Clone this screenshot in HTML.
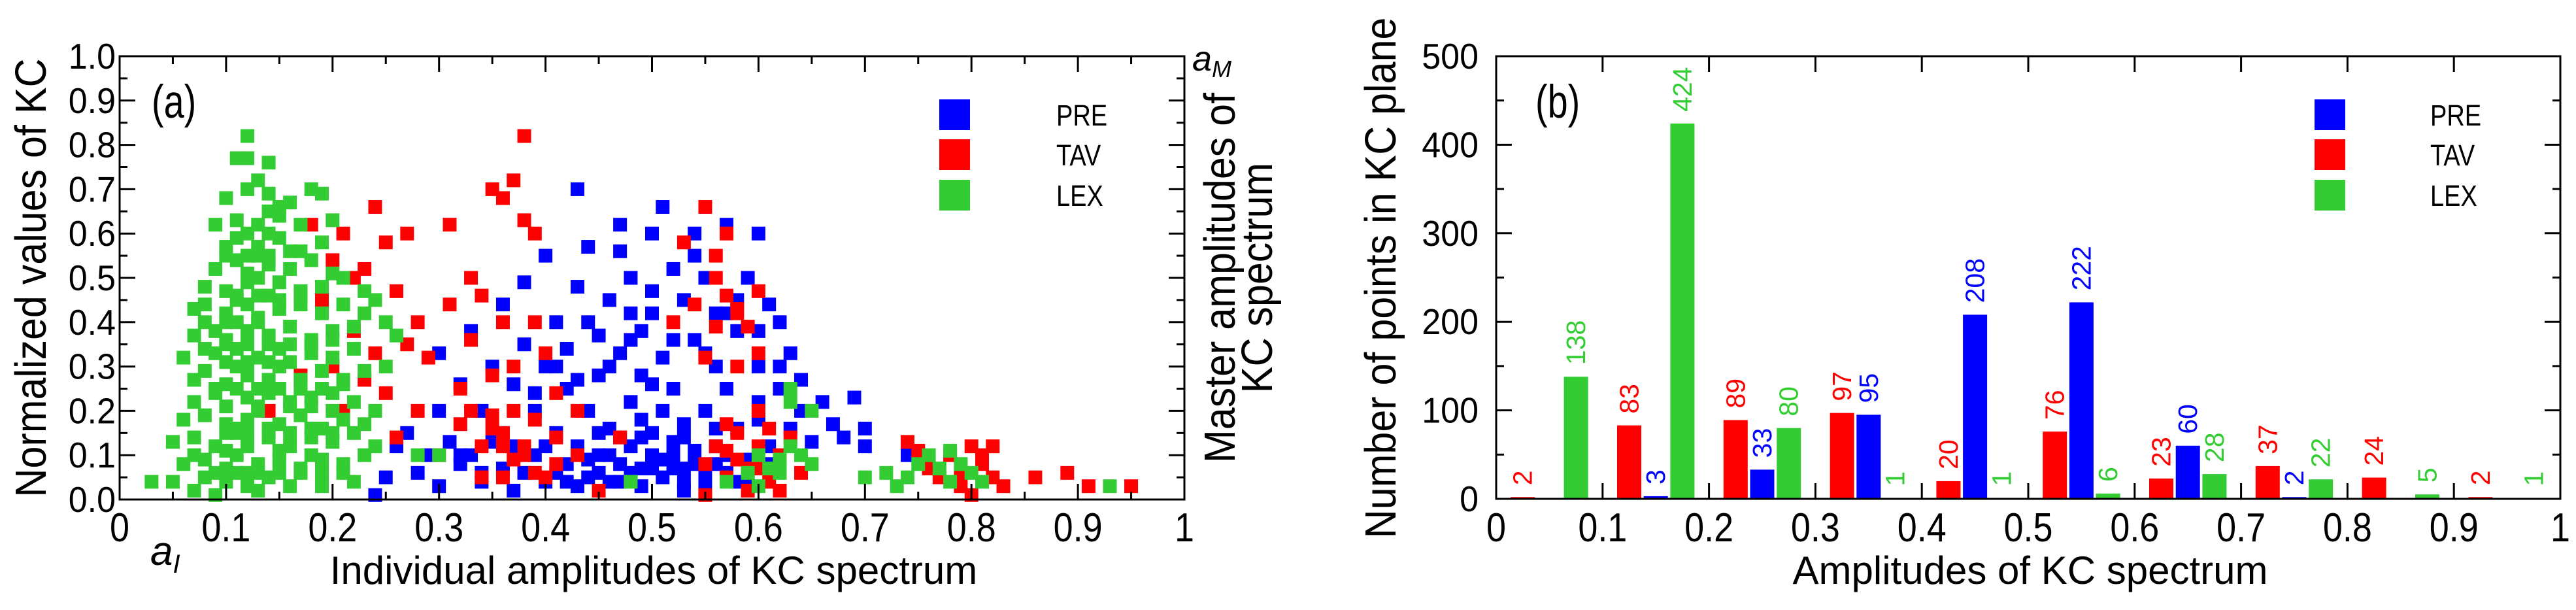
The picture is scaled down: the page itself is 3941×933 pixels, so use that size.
<!DOCTYPE html>
<html><head><meta charset="utf-8"><style>
html,body{margin:0;padding:0;background:#fff;}
svg{display:block;font-family:"Liberation Sans",Arial,sans-serif;}
</style></head><body>
<svg id="fig" width="3941" height="933" viewBox="0 0 3941 933" xmlns="http://www.w3.org/2000/svg">
<g id="pa"></g>
<g id="pb"></g>
<g>
<text transform="translate(232,180) scale(0.9,1.15)" font-size="62">(a)</text>
<text x="1000" y="893" font-size="60" text-anchor="middle">Individual amplitudes of KC spectrum</text>
<text transform="translate(70,425) rotate(-90) scale(1,1.1)" font-size="61" text-anchor="middle">Normalized values of KC</text>
<text transform="translate(1889,425) rotate(-90) scale(1,1.1)" font-size="61" text-anchor="middle">Master amplitudes of</text>
<text transform="translate(1946,425) rotate(-90) scale(1,1.1)" font-size="61" text-anchor="middle">KC spectrum</text>
<text x="1824" y="108" font-size="54" font-style="italic">a<tspan font-size="36" dy="10">M</tspan></text>
<text x="230" y="864" font-size="62" font-style="italic">a<tspan font-size="40" dy="12">I</tspan></text>
<g font-size="38">
<rect x="1437" y="152" width="47" height="47" fill="#0000ff"/>
<text transform="translate(1616,192) scale(1,1.2)">PRE</text>
<rect x="1437" y="213" width="47" height="47" fill="#ff0000"/>
<text transform="translate(1616,253) scale(1,1.2)">TAV</text>
<rect x="1437" y="275" width="47" height="47" fill="#33cc33"/>
<text transform="translate(1616,315) scale(1,1.2)">LEX</text>
</g>
</g>
<g>
<text transform="translate(2349,180) scale(0.9,1.15)" font-size="62">(b)</text>
<text x="3106" y="893" font-size="60" text-anchor="middle">Amplitudes of KC spectrum</text>
<text transform="translate(2135,425) rotate(-90) scale(1,1.1)" font-size="61" text-anchor="middle">Number of points in KC plane</text>
<g font-size="38">
<rect x="3541" y="152" width="47" height="47" fill="#0000ff"/>
<text transform="translate(3718,192) scale(1,1.2)">PRE</text>
<rect x="3541" y="213" width="47" height="47" fill="#ff0000"/>
<text transform="translate(3718,253) scale(1,1.2)">TAV</text>
<rect x="3541" y="275" width="47" height="47" fill="#33cc33"/>
<text transform="translate(3718,315) scale(1,1.2)">LEX</text>
</g>
</g>
</svg>
<script>
// ---------- Panel (a) data ----------
const preX=[0.24,0.25,0.26,0.27,0.28,0.29,0.3,0.3,0.3,0.31,0.32,0.32,0.33,0.33,0.34,0.34,0.35,0.35,0.36,0.36,0.37,0.37,0.38,0.38,0.39,0.39,0.4,0.4,0.4,0.41,0.41,0.42,0.42,0.42,0.43,0.43,0.43,0.44,0.44,0.44,0.45,0.45,0.45,0.46,0.46,0.46,0.47,0.47,0.47,0.48,0.48,0.48,0.49,0.49,0.49,0.5,0.5,0.5,0.5,0.51,0.51,0.51,0.51,0.52,0.52,0.52,0.53,0.53,0.53,0.54,0.54,0.54,0.55,0.55,0.55,0.56,0.56,0.56,0.57,0.57,0.57,0.58,0.58,0.59,0.59,0.6,0.6,0.6,0.61,0.61,0.62,0.62,0.63,0.63,0.64,0.65,0.66,0.67,0.68,0.69,0.7,0.7,0.74,0.46,0.48,0.52,0.54,0.5,0.44,0.56,0.58,0.42,0.4,0.38,0.36,0.47,0.53,
0.41,0.43,0.45,0.47,0.49,0.51,0.53,0.55,0.57,0.59,0.61,0.45,0.49,0.52,0.56,0.6,0.48,0.5,0.54,0.58,0.39,0.41,0.44,0.46,0.48,0.5,0.52,0.55,0.57,0.6,0.62,0.64,0.32,0.34,0.37,0.49,0.53,0.47,0.43];
const preY=[0.01,0.05,0.12,0.15,0.06,0.1,0.03,0.2,0.33,0.13,0.26,0.08,0.38,0.1,0.2,0.04,0.3,0.13,0.44,0.07,0.26,0.02,0.35,0.49,0.1,0.2,0.04,0.3,0.55,0.15,0.4,0.08,0.25,0.34,0.7,0.48,0.12,0.05,0.2,0.57,0.37,0.1,0.28,0.04,0.45,0.16,0.62,0.08,0.33,0.22,0.5,0.12,0.03,0.38,0.28,0.6,0.15,0.07,0.42,0.66,0.2,0.05,0.32,0.52,0.1,0.25,0.04,0.45,0.14,0.36,0.08,0.6,0.2,0.5,0.02,0.3,0.12,0.42,0.06,0.62,0.25,0.16,0.38,0.5,0.09,0.3,0.6,0.18,0.44,0.12,0.25,0.4,0.33,0.16,0.27,0.13,0.22,0.17,0.14,0.23,0.16,0.12,0.1,0.1,0.06,0.07,0.11,0.1,0.09,0.08,0.04,0.04,0.12,0.06,0.15,0.14,0.17,
0.06,0.03,0.06,0.04,0.07,0.09,0.07,0.05,0.1,0.05,0.08,0.15,0.18,0.13,0.16,0.22,0.42,0.47,0.55,0.45,0.24,0.3,0.4,0.3,0.36,0.26,0.36,0.33,0.42,0.38,0.3,0.2,0.1,0.06,0.12,0.14,0.02,0.56,0.27];
const tavX=[0.12,0.14,0.17,0.18,0.19,0.2,0.2,0.21,0.21,0.22,0.22,0.23,0.23,0.24,0.24,0.25,0.25,0.26,0.26,0.27,0.27,0.28,0.28,0.29,0.3,0.31,0.31,0.32,0.32,0.33,0.33,0.34,0.34,0.35,0.35,0.35,0.36,0.36,0.36,0.37,0.37,0.37,0.38,0.38,0.38,0.39,0.39,0.39,0.4,0.4,0.41,0.41,0.43,0.43,0.45,0.47,0.52,0.53,0.54,0.55,0.55,0.56,0.56,0.57,0.57,0.58,0.58,0.59,0.6,0.6,0.55,0.55,0.56,0.57,0.58,0.58,0.59,0.6,0.6,0.61,0.61,0.62,0.62,0.63,0.64,0.74,0.75,0.76,0.77,0.78,0.79,0.8,0.8,0.81,0.82,0.82,0.83,0.86,0.89,0.91,0.95,
0.35,0.36,0.38,0.37,0.34,0.39,0.41,0.33,0.36,0.57,0.59,0.56,0.58,0.6,0.57,0.76,0.79,0.81];
const tavY=[0.14,0.2,0.28,0.62,0.45,0.54,0.3,0.6,0.2,0.5,0.38,0.52,0.27,0.66,0.33,0.58,0.24,0.47,0.14,0.35,0.6,0.4,0.2,0.32,0.1,0.44,0.62,0.25,0.17,0.5,0.36,0.05,0.46,0.7,0.28,0.16,0.68,0.4,0.12,0.2,0.72,0.3,0.82,0.63,0.1,0.6,0.4,0.18,0.05,0.33,0.14,0.24,0.2,0.1,0.02,0.14,0.4,0.58,0.44,0.66,0.32,0.5,0.39,0.46,0.6,0.42,0.3,0.39,0.47,0.33,0.01,0.08,0.12,0.05,0.15,0.09,0.02,0.12,0.07,0.16,0.04,0.1,0.02,0.14,0.06,0.13,0.11,0.07,0.05,0.1,0.03,0.12,0.01,0.08,0.12,0.05,0.03,0.05,0.06,0.03,0.03,
0.19,0.15,0.12,0.09,0.12,0.06,0.08,0.2,0.05,0.11,0.07,0.55,0.43,0.2,0.17,0.09,0.06,0.1];
const lexX=[0.03,0.05,0.07,0.09,0.1,0.12,0.14,0.16,0.19,0.22,0.08,0.13,
0.06,0.08,0.1,0.11,0.13,0.15,0.17,0.19,0.21,0.23,0.07,0.12,0.18,
0.05,0.07,0.09,0.11,0.12,0.14,0.16,0.18,0.2,0.22,0.24,0.1,0.15,
0.06,0.08,0.1,0.12,0.13,0.15,0.17,0.19,0.21,0.23,0.11,0.2,
0.07,0.09,0.1,0.12,0.14,0.16,0.18,0.2,0.22,0.13,0.17,
0.07,0.08,0.1,0.12,0.14,0.15,0.17,0.19,0.21,0.23,0.11,
0.06,0.08,0.1,0.11,0.13,0.15,0.16,0.18,0.2,0.22,0.09,0.14,
0.07,0.09,0.1,0.12,0.14,0.16,0.18,0.2,0.22,0.13,0.11,
0.07,0.08,0.1,0.12,0.13,0.15,0.17,0.19,0.21,0.23,0.24,0.11,
0.08,0.1,0.12,0.14,0.15,0.17,0.19,0.21,0.23,0.13,
0.09,0.11,0.12,0.14,0.16,0.18,0.2,0.13,0.1,
0.1,0.11,0.13,0.15,0.17,0.19,0.14,0.12,
0.09,0.11,0.13,0.15,0.17,0.2,0.14,
0.1,0.12,0.14,0.16,0.18,0.13,0.11,0.12,0.14,0.12,0.19,0.15,
0.24,0.25,0.26,0.25,0.28,0.3,0.48,0.57,0.6,0.59,0.61,0.62,0.63,0.64,0.65,0.6,0.62,0.63,0.63,0.65,0.7,0.72,0.73,0.74,0.75,0.76,0.77,0.78,0.79,0.8,0.81,0.78,0.93,
0.09,0.11,0.13,0.15,0.17,0.19,0.21,0.1,0.12,0.14,0.16,0.18,0.2,0.09,0.11,0.13,0.15,0.17,0.19,0.21,0.1,0.12,0.14,0.16,0.18,0.2,0.11,0.13,0.15,0.17,0.12,0.14,0.16,0.08,0.1,0.12,0.14,0.16,0.18];
const lexY=[0.04,0.04,0.02,0.01,0.04,0.03,0.05,0.03,0.03,0.04,0.05,0.02,
0.08,0.09,0.07,0.1,0.08,0.09,0.07,0.09,0.08,0.1,0.1,0.06,0.1,
0.13,0.14,0.12,0.15,0.12,0.14,0.12,0.14,0.13,0.15,0.12,0.11,0.11,
0.18,0.19,0.17,0.18,0.2,0.17,0.19,0.16,0.18,0.17,0.16,0.2,
0.22,0.24,0.21,0.23,0.24,0.22,0.23,0.24,0.22,0.21,0.25,
0.27,0.29,0.26,0.28,0.27,0.3,0.27,0.29,0.27,0.29,0.3,
0.32,0.34,0.31,0.34,0.32,0.34,0.31,0.33,0.32,0.34,0.33,0.35,
0.37,0.38,0.36,0.38,0.37,0.39,0.36,0.38,0.39,0.4,0.4,
0.43,0.44,0.42,0.44,0.41,0.43,0.44,0.42,0.44,0.42,0.45,0.45,
0.48,0.47,0.49,0.46,0.49,0.47,0.48,0.5,0.47,0.5,
0.52,0.54,0.51,0.53,0.52,0.54,0.51,0.55,0.55,
0.57,0.59,0.57,0.59,0.56,0.58,0.6,0.6,
0.62,0.63,0.62,0.64,0.62,0.63,0.65,
0.68,0.7,0.69,0.67,0.7,0.72,0.77,0.77,0.76,0.82,0.69,0.66,
0.2,0.4,0.37,0.3,0.1,0.1,0.04,0.04,0.03,0.06,0.07,0.09,0.12,0.1,0.08,0.1,0.06,0.22,0.25,0.2,0.05,0.06,0.03,0.05,0.08,0.1,0.07,0.11,0.08,0.06,0.04,0.04,0.03,
0.06,0.06,0.06,0.06,0.06,0.06,0.06,0.15,0.15,0.16,0.15,0.16,0.15,0.25,0.25,0.25,0.25,0.25,0.25,0.26,0.35,0.35,0.36,0.35,0.35,0.36,0.46,0.46,0.45,0.46,0.55,0.55,0.56,0.4,0.4,0.31,0.31,0.21,0.21];
const xTicksA=["0","0.1","0.2","0.3","0.4","0.5","0.6","0.7","0.8","0.9","1"];
const yTicksA=["0.0","0.1","0.2","0.3","0.4","0.5","0.6","0.7","0.8","0.9","1.0"];

// ---------- Panel (b) data ----------
const binCenters=[0.025,0.075,0.125,0.15,0.175,0.225,0.25,0.275,0.325,0.35,0.375,0.425,0.45,0.475,0.525,0.55,0.575,0.625,0.65,0.675,0.725,0.75,0.775,0.825,0.875,0.925,0.975];
const binSeries=["TAV","LEX","TAV","PRE","LEX","TAV","PRE","LEX","TAV","PRE","LEX","TAV","PRE","LEX","TAV","PRE","LEX","TAV","PRE","LEX","TAV","PRE","LEX","TAV","LEX","TAV","LEX"];
const binCounts=[2,138,83,3,424,89,33,80,97,95,1,20,208,1,76,222,6,23,60,28,37,2,22,24,5,2,1];
const xTicksB=["0","0.1","0.2","0.3","0.4","0.5","0.6","0.7","0.8","0.9","1"];
const yTicksB=["0","100","200","300","400","500"];

const COL={PRE:"#0000ff",TAV:"#ff0000",LEX:"#33cc33"};
const NS="http://www.w3.org/2000/svg";
function mk(parent,tag,attrs,txt){const e=document.createElementNS(NS,tag);for(const k in attrs)e.setAttribute(k,attrs[k]);if(txt!==undefined)e.textContent=txt;parent.appendChild(e);return e;}

// ---------- Panel (a) ----------
const A={x0:183,x1:1812,y0:764,y1:86};
const ax=v=>A.x0+v*(A.x1-A.x0), ay=v=>A.y0-v*(A.y0-A.y1);
const pa=document.getElementById('pa');
const ms=21;
function drawPts(xs,ys,c,name){
  const g=mk(pa,'g',{});
  
  
  for(let i=0;i<xs.length;i++){
    const r=mk(g,'rect',{x:ax(xs[i])-ms/2,y:ay(ys[i])-ms/2,width:ms,height:ms,fill:c});
    
    
  }
}
drawPts(preX,preY,COL.PRE,'pre-points');
drawPts(tavX,tavY,COL.TAV,'tav-points');
drawPts(lexX,lexY,COL.LEX,'lex-points');

function frame(p,x0,x1,y0,y1,xmaj,xmin,ymaj,ymin,ax_,ay_){
  const g=mk(p,'g',{stroke:'#000','stroke-width':3,fill:'none'});
  
  
  mk(g,'rect',{x:x0,y:y1,width:x1-x0,height:y0-y1});
  xmaj.forEach(v=>{const x=ax_(v);mk(g,'line',{x1:x,y1:y0,x2:x,y2:y0-24});mk(g,'line',{x1:x,y1:y1,x2:x,y2:y1+24});});
  xmin.forEach(v=>{const x=ax_(v);mk(g,'line',{x1:x,y1:y0,x2:x,y2:y0-12});mk(g,'line',{x1:x,y1:y1,x2:x,y2:y1+12});});
  ymaj.forEach(v=>{const y=ay_(v);mk(g,'line',{x1:x0,y1:y,x2:x0+24,y2:y});mk(g,'line',{x1:x1,y1:y,x2:x1-24,y2:y});});
  ymin.forEach(v=>{const y=ay_(v);mk(g,'line',{x1:x0,y1:y,x2:x0+12,y2:y});mk(g,'line',{x1:x1,y1:y,x2:x1-12,y2:y});});
}
function xLabel(p,x,t){const e=mk(p,'text',{transform:`translate(${x},828) scale(0.87,1)`,'font-size':62,'text-anchor':'middle'},t);}
function yLabel(p,x,y,t){const e=mk(p,'text',{transform:`translate(${x},${y+19}) scale(1,1.05)`,'font-size':52,'text-anchor':'end'},t);}
const majA=xTicksA.map((_,i)=>i/10), minA=xTicksA.slice(1).map((_,i)=>i/10+0.05);
frame(pa,A.x0,A.x1,A.y0,A.y1,majA,minA,majA,minA,ax,ay);
xTicksA.forEach((t,i)=>xLabel(pa,ax(i/10),t));
yTicksA.forEach((t,i)=>yLabel(pa,177,ay(i/10),t));

// ---------- Panel (b) ----------
const B={x0:2289,x1:3917,y0:763,y1:86};
const bx=v=>B.x0+v*(B.x1-B.x0), by=v=>B.y0-v/500*(B.y0-B.y1);
const pb=document.getElementById('pb');
const bw=37;
for(let i=0;i<binCounts.length;i++){
  const c=COL[binSeries[i]];
  const r=mk(pb,'rect',{x:bx(binCenters[i])-bw/2,y:by(binCounts[i]),width:bw,height:B.y0-by(binCounts[i]),fill:c});
  
  
  const tx=bx(binCenters[i])+14, ty=by(binCounts[i])-18;
  const t=mk(pb,'text',{x:tx,y:ty,'font-size':41,fill:c,transform:`rotate(-90 ${tx} ${ty})`},String(binCounts[i]));
  
  
}
const majBy=yTicksB.map((_,i)=>i*100), minBy=yTicksB.slice(1).map((_,i)=>i*100+50);
frame(pb,B.x0,B.x1,B.y0,B.y1,xTicksB.map((_,i)=>i/10),[],majBy,minBy,bx,by);
xTicksB.forEach((t,i)=>xLabel(pb,bx(i/10),t));
yTicksB.forEach((t,i)=>yLabel(pb,2262,by(i*100),t));
</script>
</body></html>
